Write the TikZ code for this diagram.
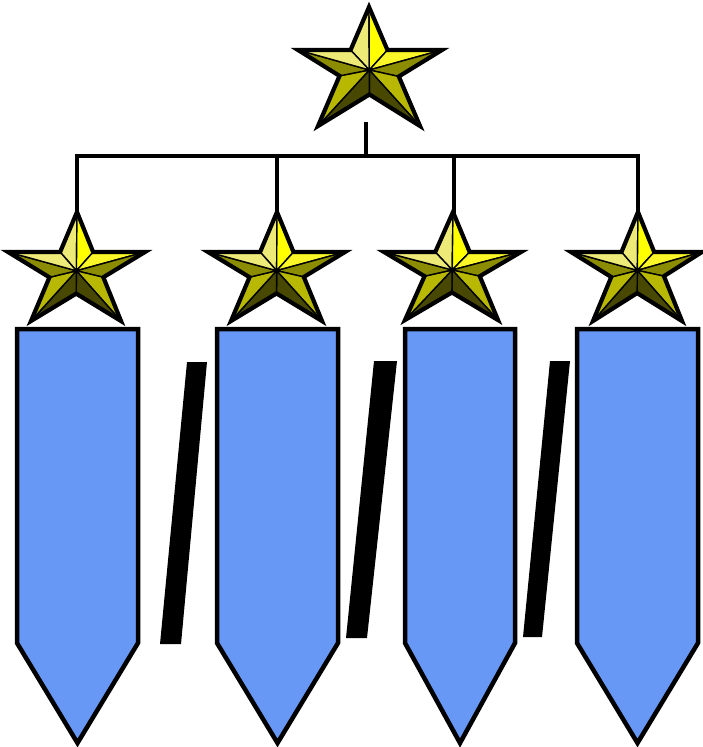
\documentclass[tikz,border=0pt]{standalone}
\usetikzlibrary{calc}
\definecolor{bannerblue}{RGB}{104,152,246}
\definecolor{sY}{RGB}{255,255,0}
\definecolor{sYb}{RGB}{250,246,40}
\definecolor{sPale}{RGB}{238,234,120}
\definecolor{sOlive}{RGB}{184,184,0}
\definecolor{sOliveM}{RGB}{140,140,0}
\definecolor{sDark}{RGB}{72,72,0}
\tikzset{
  facet/.style={draw=black,line width=1.4pt,line join=round},
  starline/.style={draw=black,line width=4.2pt,line join=miter},
  banner/.style={fill=bannerblue,draw=black,line width=4.5pt,line join=miter},
  slash/.style={fill=black,draw=none},
  conn/.style={draw=black,line width=4.2pt}
}
% #1 name, #2 top tip, #3 right tip, #4 bottom-right tip, #5 bottom-left tip, #6 left tip
\newcommand\bevstar[6]{%
  \coordinate (#1t) at (#2);
  \coordinate (#1r) at (#3);
  \coordinate (#1br) at (#4);
  \coordinate (#1bl) at (#5);
  \coordinate (#1l) at (#6);
  \coordinate (#1itr) at (intersection of #1t--#1br and #1l--#1r);
  \coordinate (#1itl) at (intersection of #1t--#1bl and #1l--#1r);
  \coordinate (#1irb) at (intersection of #1r--#1bl and #1t--#1br);
  \coordinate (#1ib) at (intersection of #1r--#1bl and #1l--#1br);
  \coordinate (#1ilb) at (intersection of #1l--#1br and #1t--#1bl);
  \coordinate (#1c) at ($(#1t)!0.72!(#1ib)$);
  \filldraw[facet,fill=sPale] (#1c) -- (#1t) -- (#1itl) -- cycle;
  \filldraw[facet,fill=sY] (#1c) -- (#1t) -- (#1itr) -- cycle;
  \filldraw[facet,fill=sYb] (#1c) -- (#1r) -- (#1itr) -- cycle;
  \filldraw[facet,fill=sOliveM] (#1c) -- (#1r) -- (#1irb) -- cycle;
  \filldraw[facet,fill=sOlive] (#1c) -- (#1br) -- (#1irb) -- cycle;
  \filldraw[facet,fill=sDark] (#1c) -- (#1br) -- (#1ib) -- cycle;
  \filldraw[facet,fill=sDark] (#1c) -- (#1bl) -- (#1ib) -- cycle;
  \filldraw[facet,fill=sOlive] (#1c) -- (#1bl) -- (#1ilb) -- cycle;
  \filldraw[facet,fill=sOliveM] (#1c) -- (#1l) -- (#1ilb) -- cycle;
  \filldraw[facet,fill=sPale] (#1c) -- (#1l) -- (#1itl) -- cycle;
  \draw[starline] (#1t) -- (#1itr) -- (#1r) -- (#1irb) -- (#1br) -- (#1ib)
     -- (#1bl) -- (#1ilb) -- (#1l) -- (#1itl) -- cycle;
}
\begin{document}
\begin{tikzpicture}[x=1pt,y=-1pt]
\useasboundingbox (0,0) rectangle (703,747);
\fill[white] (0,0) rectangle (703,747);

% connectors
\coordinate (hubtop) at (366,122);
\coordinate (hub) at (366,156);
\coordinate (c1) at (77,214);
\coordinate (c2) at (277,214);
\coordinate (c3) at (454,214);
\coordinate (c4) at (638,214);
\draw[conn] (hubtop) -- (hub);
\draw[conn,line cap=rect] (hub) -| (c1);
\draw[conn] (hub) -| (c2);
\draw[conn] (hub) -| (c3);
\draw[conn,line cap=rect] (hub) -| (c4);

% stars
\bevstar{S0}{369,7}{442,50}{420,126}{318,126}{298,50}
\bevstar{S1}{77,212}{145,252}{121,321}{31,321}{8,252}
\bevstar{S2}{277,212}{345,252}{322,321}{231,321}{208,252}
\bevstar{S3}{453,212}{521,252}{498,320}{405,320}{384,252}
\bevstar{S4}{638,212}{702,252}{682,321}{593,321}{571,252}

% banners
\draw[banner] (17,329) -- (138,329) -- (138,643) -- (77.5,743) -- (17,643) -- cycle;
\draw[banner] (217,329) -- (338,329) -- (338,643) -- (277.5,743) -- (217,643) -- cycle;
\draw[banner] (405,329) -- (515,329) -- (515,643) -- (460,743) -- (405,643) -- cycle;
\draw[banner] (577,329) -- (698,329) -- (698,643) -- (637.5,743) -- (577,643) -- cycle;

% slashes
\fill[slash] (187,362) -- (207,362) -- (181,644) -- (160,644) -- cycle;
\fill[slash] (374,361) -- (397,361) -- (367,638) -- (346,638) -- cycle;
\fill[slash] (550,361) -- (570,361) -- (542,637) -- (523,637) -- cycle;
\end{tikzpicture}
\end{document}
